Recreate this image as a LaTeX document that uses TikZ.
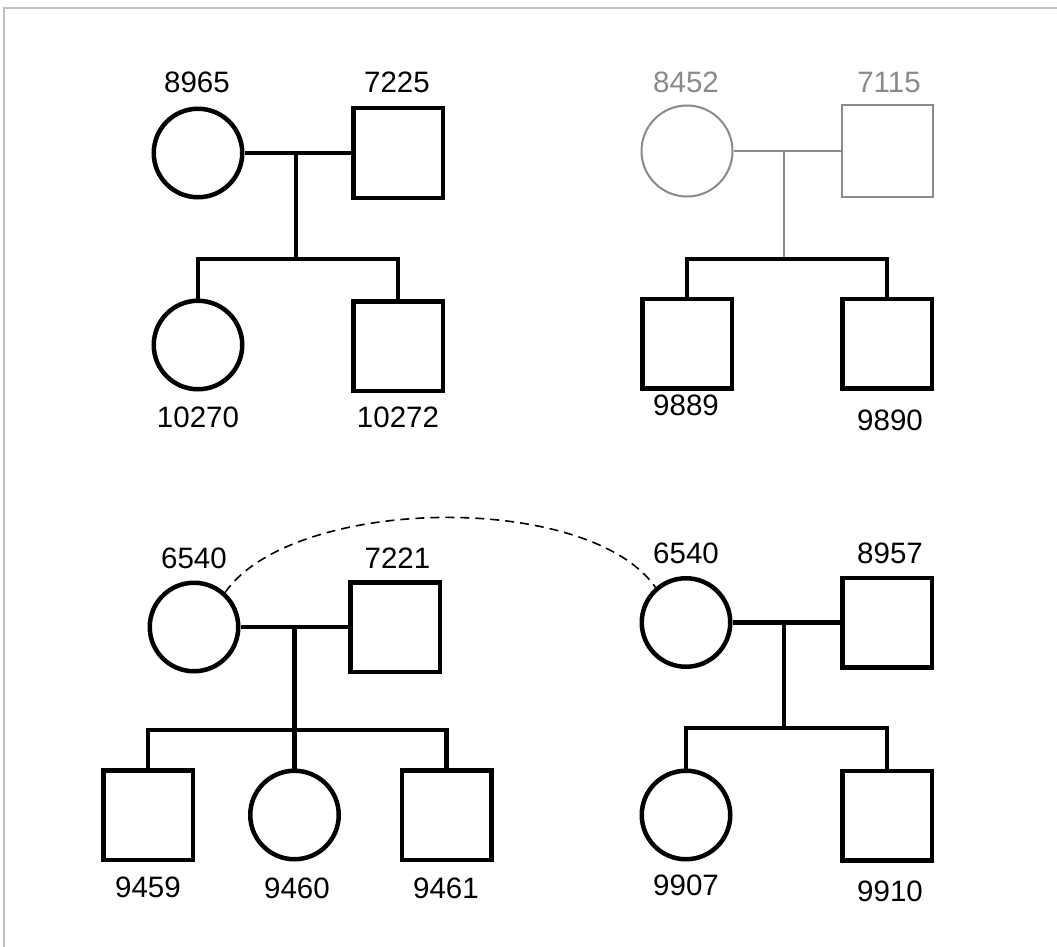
\documentclass[tikz,border=0pt]{standalone}
\usepackage{fontspec}
\setmainfont{Liberation Sans}
\definecolor{fadedgray}{RGB}{138,138,138}
\definecolor{framegray}{RGB}{192,192,192}
\begin{document}
\begin{tikzpicture}[x=1pt,y=-1pt,
  female/.style={circle, draw, line width=4.5pt, minimum size=88.5pt, inner sep=0pt},
  male/.style={rectangle, draw, line width=4.5pt, minimum size=89.5pt, inner sep=0pt},
  faded/.style={draw=fadedgray, line width=2pt, minimum size=91pt},
  bond/.style={line width=4.5pt},
  fadedbond/.style={line width=2pt, draw=fadedgray},
  idlabel/.style={anchor=base, inner sep=0pt, font=\fontsize{29.5}{35}\selectfont},
  link/.style={line width=1.6pt, dash pattern=on 9pt off 6pt}]
\useasboundingbox (0,0) rectangle (1057,947);
\fill[white] (0,0) rectangle (1057,947);
\draw[framegray, line width=1.5pt] (4,947) -- (4,8) -- (1057,8);

% ---- family 1: 8965 x 7225
\node[female] (F1) at (198,153) {};
\node[male]   (M1) at (398,153) {};
\node[female] (C11) at (198,345) {};
\node[male]   (C12) at (398,346) {};
\coordinate (d1) at (296,153);
\coordinate (s1) at (296,259);
\draw[bond] (F1.east) -- (M1.west);
\draw[bond] (d1) -- (s1);
\draw[bond] (C11.north) -- (C11.north |- s1) -- (C12.north |- s1) -- (C12.north);
\node[idlabel] at (197,93) {8965};
\node[idlabel] at (397,93) {7225};
\node[idlabel] at (198,427) {10270};
\node[idlabel] at (398,427) {10272};

% ---- family 2: 8452 x 7115 (parents shown faded)
\node[female, faded] (F2) at (687,151) {};
\node[male, faded]   (M2) at (887,151) {};
\node[male] (C21) at (687,343.5) {};
\node[male] (C22) at (887,343.5) {};
\coordinate (d2) at (784,151);
\coordinate (s2) at (784,259);
\draw[fadedbond] (F2.east) -- (M2.west);
\draw[fadedbond] (d2) -- ([yshift=-2pt]s2);
\draw[bond] (C21.north) -- (C21.north |- s2) -- (C22.north |- s2) -- (C22.north);
\node[idlabel, text=fadedgray] at (686,93) {8452};
\node[idlabel, text=fadedgray] at (889,93) {7115};
\node[idlabel] at (686,415) {9889};
\node[idlabel] at (890,430) {9890};

% ---- family 3: 6540 x 7221
\node[female] (F3) at (194,627) {};
\node[male]   (M3) at (395,627) {};
\node[male]   (C31) at (148,815) {};
\node[female] (C32) at (294.5,815) {};
\node[male]   (C33) at (446.5,815) {};
\coordinate (d3) at (294.5,627);
\coordinate (s3) at (294.5,730);
\draw[bond] (F3.east) -- (M3.west);
\draw[bond] (d3) -- (C32.north);
\draw[bond] (C31.north) -- (C31.north |- s3) -- (C33.north |- s3) -- (C33.north);
\node[idlabel] at (194,568) {6540};
\node[idlabel] at (397.5,568) {7221};
\node[idlabel] at (148,897) {9459};
\node[idlabel] at (297,898) {9460};
\node[idlabel] at (446,898) {9461};

% ---- family 4: 6540 x 8957
\node[female] (F4) at (686,622.5) {};
\node[male]   (M4) at (887,622.5) {};
\node[female] (C41) at (686,815) {};
\node[male]   (C42) at (887,815.5) {};
\coordinate (d4) at (784,622.5);
\coordinate (s4) at (784,728);
\draw[bond] (F4.east) -- (M4.west);
\draw[bond] (d4) -- (s4);
\draw[bond] (C41.north) -- (C41.north |- s4) -- (C42.north |- s4) -- (C42.north);
\node[idlabel] at (686,563) {6540};
\node[idlabel] at (890,563) {8957};
\node[idlabel] at (686,895) {9907};
\node[idlabel] at (890,901) {9910};

% ---- same individual appearing twice
\draw[link] (F3.48) to[out=55, in=125, looseness=0.7] (F4.131);
\end{tikzpicture}
\end{document}
